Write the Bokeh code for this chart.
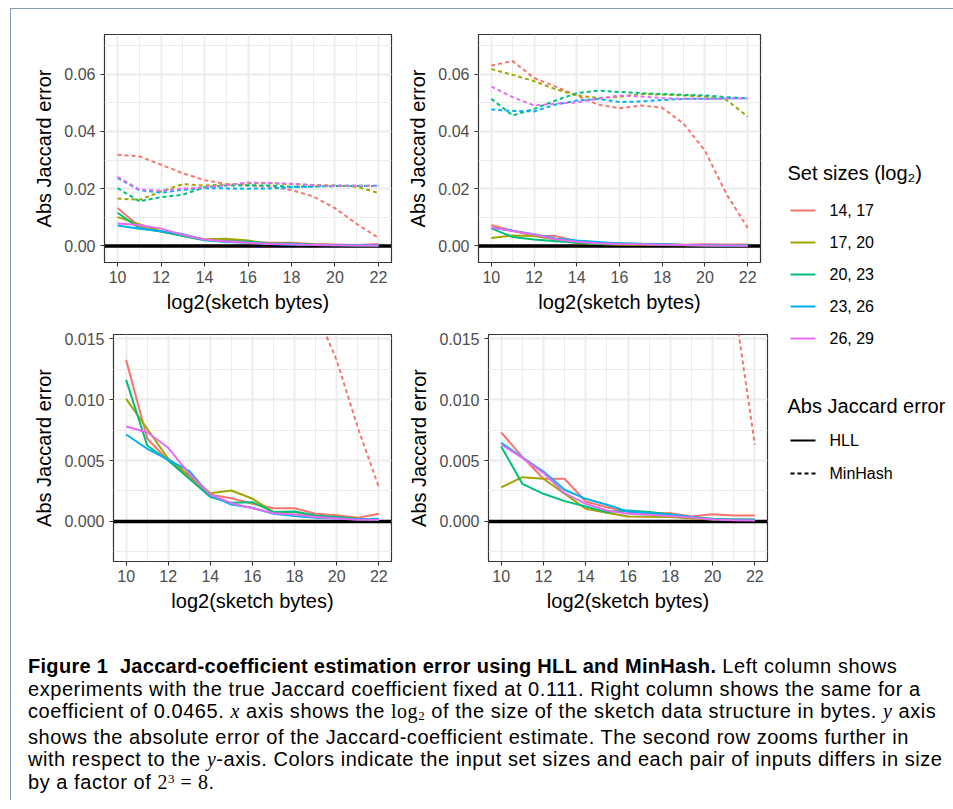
from bokeh.plotting import figure
from bokeh.models import Range1d, FixedTicker, Span, Div, Spacer, PrintfTickFormatter
from bokeh.layouts import row, column
from bokeh.embed import file_html
from bokeh.resources import INLINE
from bokeh.core.properties import value

# ---------------- data ----------------
X = [10, 11, 12, 13, 14, 15, 16, 17, 18, 19, 20, 21, 22]
SET_SIZES = ["14, 17", "17, 20", "20, 23", "23, 26", "26, 29"]
COLORS = ["#F8766D", "#A3A500", "#00BF7D", "#00B0F6", "#E76BF3"]

# Left column: true Jaccard 0.111
HLL_LEFT = [
    [0.01325, 0.0068, 0.0050, 0.00363, 0.00219, 0.00191, 0.00145, 0.00109, 0.00109, 0.00063, 0.00052, 0.00030, 0.00063],
    [0.01005, 0.0076, 0.00514, 0.00377, 0.00232, 0.00254, 0.00186, 0.00077, 0.00077, 0.00041, 0.00030, 0.00020, 0.00014],
    [0.01161, 0.00623, 0.0050, 0.0035, 0.0020, 0.00153, 0.00158, 0.00077, 0.00082, 0.00049, 0.00036, 0.00022, 0.00014],
    [0.00713, 0.00596, 0.00508, 0.00413, 0.00213, 0.00139, 0.00112, 0.00063, 0.00044, 0.00030, 0.00025, 0.00019, 0.00022],
    [0.00779, 0.00732, 0.00604, 0.00391, 0.00221, 0.0015, 0.00109, 0.00068, 0.00057, 0.00036, 0.00025, 0.00014, 0.00014],
]
MINHASH_LEFT = [
    [0.0319, 0.0313, 0.0284, 0.0254, 0.0230, 0.0216, 0.0211, 0.0208, 0.0195, 0.0173, 0.0132, 0.0077, 0.0028],
    [0.0166, 0.0161, 0.0190, 0.0216, 0.0211, 0.0214, 0.0219, 0.0219, 0.0216, 0.0213, 0.0211, 0.0207, 0.0185],
    [0.0202, 0.0156, 0.0170, 0.0179, 0.0205, 0.0211, 0.0212, 0.0211, 0.0207, 0.0208, 0.0209, 0.0209, 0.0209],
    [0.0238, 0.0195, 0.0186, 0.0196, 0.0202, 0.0201, 0.0200, 0.0201, 0.0205, 0.0208, 0.0210, 0.0210, 0.0210],
    [0.0241, 0.0197, 0.0193, 0.0200, 0.0205, 0.0212, 0.0222, 0.0220, 0.0217, 0.0212, 0.0210, 0.0210, 0.0210],
]
# Right column: true Jaccard 0.0465
HLL_RIGHT = [
    [0.0073, 0.0053, 0.0035, 0.0035, 0.00164, 0.00117, 0.00077, 0.00071, 0.00068, 0.00041, 0.0006, 0.00049, 0.00049],
    [0.0028, 0.00363, 0.0035, 0.00227, 0.00104, 0.00071, 0.00041, 0.00038, 0.00036, 0.00025, 0.00016, 0.00016, 0.00016],
    [0.00615, 0.00309, 0.00227, 0.00167, 0.00123, 0.00077, 0.0009, 0.00077, 0.00057, 0.00036, 0.00022, 0.00014, 0.00014],
    [0.00645, 0.00527, 0.0041, 0.0026, 0.00186, 0.00137, 0.00082, 0.00068, 0.00055, 0.00036, 0.00019, 0.00016, 0.00014],
    [0.00631, 0.00522, 0.00399, 0.00232, 0.00145, 0.0009, 0.00063, 0.00055, 0.00044, 0.00033, 0.00016, 0.00011, 0.00008],
]
MINHASH_RIGHT = [
    [0.0631, 0.0646, 0.0587, 0.0557, 0.0526, 0.0494, 0.0481, 0.0491, 0.0483, 0.0427, 0.0333, 0.0182, 0.0063],
    [0.0618, 0.0598, 0.0576, 0.0548, 0.0526, 0.0517, 0.0521, 0.0531, 0.0529, 0.0526, 0.0522, 0.0511, 0.0452],
    [0.0514, 0.0456, 0.0479, 0.0508, 0.0534, 0.0543, 0.0538, 0.0534, 0.0531, 0.0528, 0.0526, 0.0520, 0.0516],
    [0.0477, 0.0472, 0.0470, 0.0494, 0.0508, 0.0514, 0.0503, 0.0505, 0.0510, 0.0514, 0.0514, 0.0516, 0.0516],
    [0.0557, 0.0520, 0.0491, 0.0497, 0.0502, 0.0514, 0.0526, 0.0522, 0.0517, 0.0514, 0.0514, 0.0515, 0.0515],
]

X_TICKS = [10, 12, 14, 16, 18, 20, 22]
X_MINOR = [11, 13, 15, 17, 19, 21]
Y_TOP_TICKS = [0.0, 0.02, 0.04, 0.06]
Y_TOP_LABELS = ["0.00", "0.02", "0.04", "0.06"]
Y_TOP_MINOR = [0.01, 0.03, 0.05, 0.07]
Y_BOT_TICKS = [0.0, 0.005, 0.010, 0.015]
Y_BOT_LABELS = ["0.000", "0.005", "0.010", "0.015"]
Y_BOT_MINOR = [-0.0025, 0.0025, 0.0075, 0.0125]
X_LABEL = "log2(sketch bytes)"
Y_LABEL = "Abs Jaccard error"
METHODS = ["HLL", "MinHash"]

FONT = "Liberation Sans"
GRID = "#EBEBEB"


def make_panel(hll, mh, yr, yticks, ylabels, yminor, fmt,
               fw, fh, mbl, mbr, mbt, mbb):
    p = figure(title=None, frame_width=fw, frame_height=fh,
               min_border_left=mbl, min_border_right=mbr,
               min_border_top=mbt, min_border_bottom=mbb,
               x_range=Range1d(9.4, 22.6), y_range=Range1d(*yr),
               output_backend="svg", toolbar_location=None, tools="",
               background_fill_color="white", border_fill_color="white")
    p.outline_line_color = "#333333"
    p.outline_line_width = 1.2
    p.xaxis.ticker = FixedTicker(ticks=X_TICKS, minor_ticks=X_MINOR)
    p.yaxis.ticker = FixedTicker(ticks=yticks, minor_ticks=yminor)
    p.yaxis.formatter = PrintfTickFormatter(format=fmt)
    p.yaxis.major_label_overrides = {t: l for t, l in zip(yticks, ylabels)}
    for ax in (p.xaxis, p.yaxis):
        ax.axis_line_color = None
        ax.major_tick_line_color = "#333333"
        ax.major_tick_line_width = 1.1
        ax.major_tick_out = 4
        ax.major_tick_in = 0
        ax.minor_tick_line_color = None
        ax.major_label_text_font = FONT
        ax.major_label_text_font_size = "16px"
        ax.major_label_text_color = "#4D4D4D"
        ax.axis_label_text_font = FONT
        ax.axis_label_text_font_size = "20px"
        ax.axis_label_text_font_style = "normal"
        ax.axis_label_text_color = "black"
    p.xaxis.major_label_standoff = 4
    p.yaxis.major_label_standoff = 5
    p.xaxis.axis_label_standoff = 5
    p.yaxis.axis_label_standoff = 6
    p.xaxis.axis_label = X_LABEL
    p.yaxis.axis_label = Y_LABEL
    for g in (p.xgrid, p.ygrid):
        g.grid_line_color = GRID
        g.grid_line_width = 1.8
        g.minor_grid_line_color = GRID
        g.minor_grid_line_width = 1.0
    p.add_layout(Span(location=0, dimension="width", line_color="black",
                      line_width=3.5, level="underlay"))
    for ys, c in zip(hll, COLORS):
        p.line(X, ys, line_color=c, line_width=2, line_join="round")
    for ys, c in zip(mh, COLORS):
        p.line(X, ys, line_color=c, line_width=2, line_dash="4 3", line_join="round")
    return p


TOP_Y = (-0.0058, 0.0739)
BOT_Y = (-0.00328, 0.01533)

tl = make_panel(HLL_LEFT, MINHASH_LEFT, TOP_Y, Y_TOP_TICKS, Y_TOP_LABELS, Y_TOP_MINOR, "%.2f",
                287, 228, 93, 5, 25, 56)
tr = make_panel(HLL_RIGHT, MINHASH_RIGHT, TOP_Y, Y_TOP_TICKS, Y_TOP_LABELS, Y_TOP_MINOR, "%.2f",
                282, 228, 82, 10, 25, 56)
bl = make_panel(HLL_LEFT, MINHASH_LEFT, BOT_Y, Y_BOT_TICKS, Y_BOT_LABELS, Y_BOT_MINOR, "%.3f",
                278, 227, 102, 5, 16, 94)
br = make_panel(HLL_RIGHT, MINHASH_RIGHT, BOT_Y, Y_BOT_TICKS, Y_BOT_LABELS, Y_BOT_MINOR, "%.3f",
                279, 227, 92, 3, 16, 94)

# ---------------- legend panel ----------------
LW, LH = 175, 646
lg = figure(title=None, width=LW, height=LH, min_border=0,
            x_range=Range1d(0, LW), y_range=Range1d(LH, 0),
            output_backend="svg", toolbar_location=None, tools="",
            x_axis_type=None, y_axis_type=None,
            background_fill_color="white", border_fill_color="white")
lg.outline_line_color = None
lg.xgrid.visible = False
lg.ygrid.visible = False

title_y1 = 163
key_y = [title_y1 + 38 + 32 * i for i in range(len(SET_SIZES))]
lg.text(x=[17], y=[title_y1], text=["Set sizes (log\u2082)"], text_font=value(FONT),
        text_font_size="20px", text_baseline="middle", text_align="left", text_color="black")
lg.segment(x0=[20] * len(key_y), x1=[45] * len(key_y), y0=key_y, y1=key_y,
           line_color=COLORS, line_width=2)
lg.text(x=[59] * len(key_y), y=key_y, text=SET_SIZES, text_font=value(FONT),
        text_font_size="16px", text_baseline="middle", text_align="left", text_color="black")

title_y2 = 396
m_y = [title_y2 + 35, title_y2 + 68]
lg.text(x=[17], y=[title_y2], text=[Y_LABEL], text_font=value(FONT),
        text_font_size="20px", text_baseline="middle", text_align="left", text_color="black")
lg.segment(x0=[20], x1=[45], y0=[m_y[0]], y1=[m_y[0]], line_color="black", line_width=2)
lg.segment(x0=[20], x1=[45], y0=[m_y[1]], y1=[m_y[1]], line_color="black", line_width=2,
           line_dash="4 3")
lg.text(x=[59, 59], y=m_y, text=METHODS, text_font=value(FONT),
        text_font_size="16px", text_baseline="middle", text_align="left", text_color="black")

# ---------------- caption ----------------
M = "font-family:'Liberation Serif';font-size:20px;"
SUB = "position:relative;top:2px;font-size:13px;"
SUP = "position:relative;top:-6px;font-size:13px;"
caption_html = (
    "<div style=\"font-family:'Liberation Sans';font-size:20px;line-height:22.6px;letter-spacing:0.55px;"
    "padding-left:17px;white-space:nowrap;color:#000;width:942px;box-sizing:border-box;\">"
    "<b style=\"letter-spacing:0.3px;\">Figure 1&nbsp; Jaccard-coefficient estimation error using HLL and MinHash.</b> Left column shows<br>"
    "experiments with the true Jaccard coefficient fixed at 0.111. Right column shows the same for a<br>"
    f"coefficient of 0.0465. <i style=\"{M}\">x</i> axis shows the <span style=\"{M}\">log<span style=\"{SUB}\">2</span></span> "
    f"of the size of the sketch data structure in bytes. <i style=\"{M}\">y</i> axis<br>"
    "shows the absolute error of the Jaccard-coefficient estimate. The second row zooms further in<br>"
    f"with respect to the <i style=\"{M}\">y</i>-axis. Colors indicate the input set sizes and each pair of inputs differs in size<br>"
    f"by a factor of <span style=\"{M}\">2<span style=\"{SUP}\">3</span> = 8</span>."
    "</div>"
)
caption = Div(text=caption_html, width=942, height=140, margin=0)

FRAME = "#8497B8"
topbar = Spacer(width=943, height=1, margin=0, styles={"background-color": FRAME})
vbar = Spacer(width=1, height=791, margin=0, styles={"background-color": FRAME})

panels = column(row(tl, tr), row(bl, br))
content = column(row(panels, lg), caption)
layout = column(Spacer(width=10, height=8, margin=0),
                row(Spacer(width=10, height=10, margin=0), column(topbar, row(vbar, content))))

open("out.html", "w").write(file_html(layout, INLINE))
